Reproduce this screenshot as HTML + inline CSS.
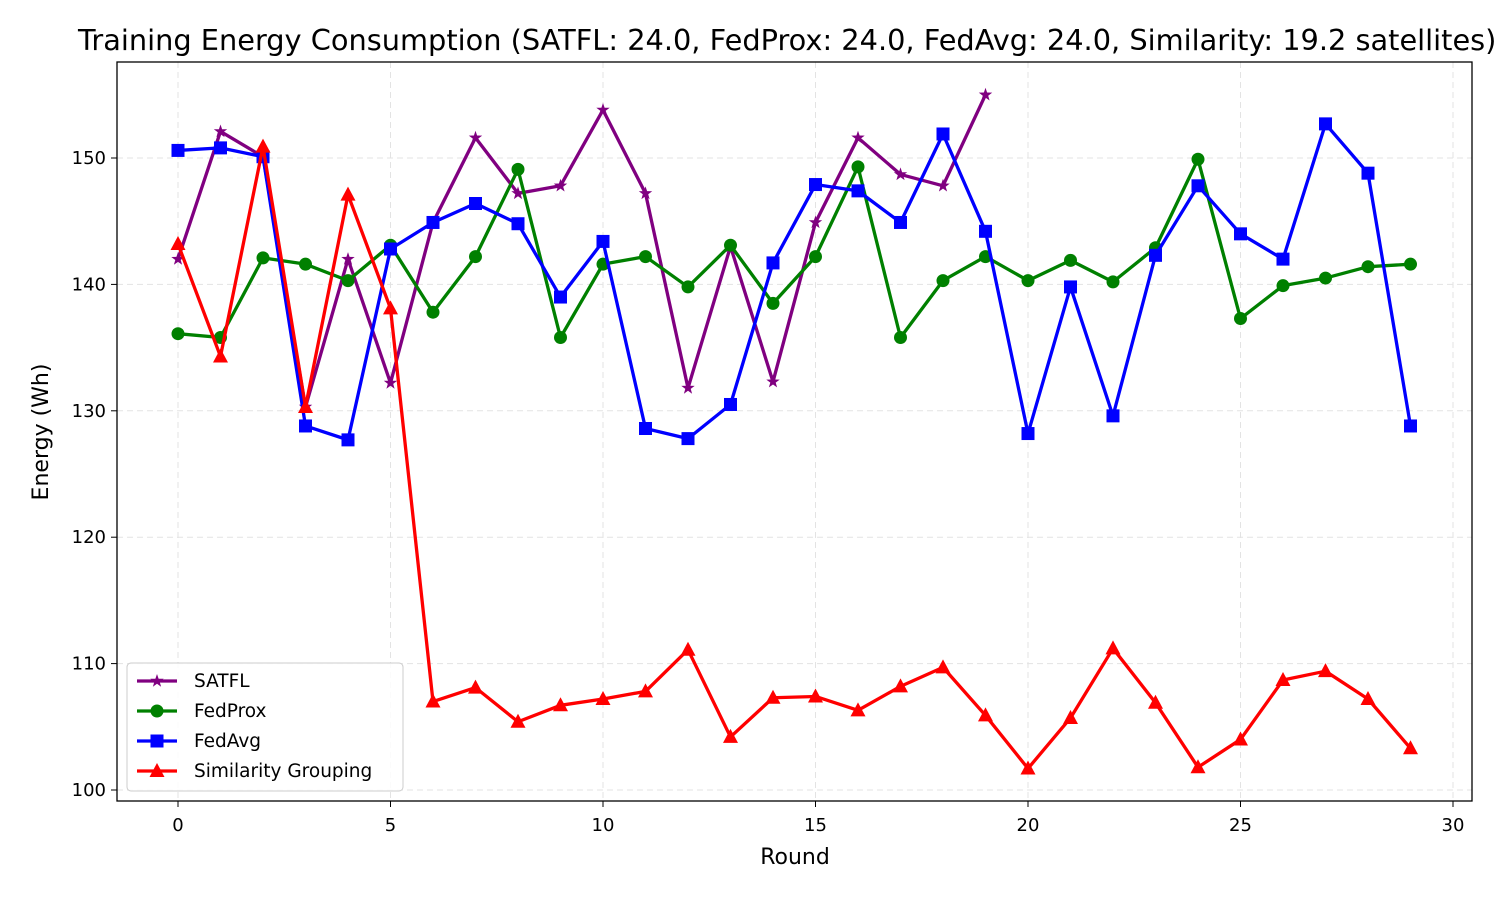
<!DOCTYPE html>
<html><head><meta charset="utf-8"><style>
html,body{margin:0;padding:0;background:#fff;width:1500px;height:900px;overflow:hidden}
svg{font-family:"DejaVu Sans","Liberation Sans",sans-serif}
</style></head><body>
<svg id="chart" width="1500" height="900">
<text x="78" y="50" font-size="28.8">Training Energy Consumption (SATFL: 24.0, FedProx: 24.0, FedAvg: 24.0, Similarity: 19.2 satellites)</text>
<g id="grid"></g><g id="axes"></g><g id="series"></g>
<rect x="117" y="62" width="1355" height="739" fill="none" stroke="#000" stroke-width="1.3"/>
<text x="795" y="864" font-size="22" text-anchor="middle">Round</text>
<text transform="translate(48,432) rotate(-90)" font-size="22" text-anchor="middle">Energy (Wh)</text>
<g id="legend"></g>
</svg>
<script>
const xTicks=[0,5,10,15,20,25,30];
const yTicks=[100,110,120,130,140,150];
const satfl=[142.0,152.1,150.1,130.3,142.0,132.2,144.9,151.6,147.2,147.8,153.8,147.2,131.8,143.0,132.3,144.9,151.6,148.7,147.8,155.0];
const fedprox=[136.1,135.8,142.1,141.6,140.3,143.1,137.8,142.2,149.1,135.8,141.6,142.2,139.8,143.1,138.5,142.2,149.3,135.8,140.3,142.2,140.3,141.9,140.2,142.9,149.9,137.3,139.9,140.5,141.4,141.6];
const fedavg=[150.6,150.8,150.1,128.8,127.7,142.8,144.9,146.4,144.8,139.0,143.4,128.6,127.8,130.5,141.7,147.9,147.4,144.9,151.9,144.2,128.2,139.8,129.6,142.3,147.8,144.0,142.0,152.7,148.8,128.8];
const similarity=[143.2,134.3,150.9,130.3,147.1,138.1,107.0,108.1,105.4,106.7,107.2,107.8,111.1,104.2,107.3,107.4,106.3,108.2,109.7,105.9,101.7,105.7,111.2,106.9,101.8,104.0,108.7,109.4,107.2,103.3];
const seriesNames=["SATFL","FedProx","FedAvg","Similarity Grouping"];
const NS="http://www.w3.org/2000/svg";
const X=v=>178+v*42.5, Y=v=>790-(v-100)*12.64;
function mk(tag,attrs,parent){const e=document.createElementNS(NS,tag);for(const k in attrs)e.setAttribute(k,attrs[k]);parent.appendChild(e);return e;}
const grid=document.getElementById('grid'),axes=document.getElementById('axes');
xTicks.forEach(t=>{
 const l=mk('line',{x1:X(t),x2:X(t),y1:62,y2:801,stroke:'#e3e3e3','stroke-dasharray':'6,4'},grid);
 
 mk('line',{x1:X(t),x2:X(t),y1:801,y2:807,stroke:'#000'},axes);
 const tx=mk('text',{x:X(t),y:831,'font-size':18,'text-anchor':'middle'},axes);tx.textContent=t;
 
});
yTicks.forEach(t=>{
 const l=mk('line',{x1:117,x2:1472,y1:Y(t),y2:Y(t),stroke:'#e3e3e3','stroke-dasharray':'6,4'},grid);
 
 mk('line',{x1:111,x2:117,y1:Y(t),y2:Y(t),stroke:'#000'},axes);
 const tx=mk('text',{x:106,y:Y(t)+6,'font-size':18,'text-anchor':'end'},axes);tx.textContent=t;
 
});
function marker(type,x,y,c,g){
 if(type==='star'){let p=[];for(let i=0;i<10;i++){const r=i%2?2.8:7,a=-Math.PI/2+i*Math.PI/5;p.push((x+r*Math.cos(a)).toFixed(1)+','+(y+r*Math.sin(a)).toFixed(1));}return mk('polygon',{points:p.join(' '),fill:c},g);}
 if(type==='circle')return mk('circle',{cx:x,cy:y,r:6.5,fill:c},g);
 if(type==='square')return mk('rect',{x:x-6.5,y:y-6.5,width:13,height:13,fill:c},g);
 return mk('polygon',{points:`${x},${y-8} ${x+7.5},${y+6} ${x-7.5},${y+6}`,fill:c},g);
}
const sg=document.getElementById('series');
const defs=[[satfl,'#800080','star','satfl'],[fedprox,'#008000','circle','fedprox'],[fedavg,'#0000ff','square','fedavg'],[similarity,'#ff0000','tri','similarity']];
defs.forEach(([d,c,m,n])=>{
 const g=mk('g',{},sg);
 
 const ln=mk('polyline',{points:d.map((v,i)=>X(i)+','+Y(v)).join(' '),fill:'none',stroke:c,'stroke-width':3.3,'stroke-linejoin':'round'},g);
 
 d.forEach((v,i)=>{const p=marker(m,X(i),Y(v),c,g);});
});
const lg=document.getElementById('legend');

mk('rect',{x:127,y:663,width:276,height:128,rx:4,fill:'#fff','fill-opacity':0.85,stroke:'#ccc'},lg);
defs.forEach(([d,c,m,n],i)=>{
 const y=681+i*30;
 const e=mk('g',{},lg);
 
 mk('line',{x1:137,x2:177,y1:y,y2:y,stroke:c,'stroke-width':3.3},e);
 marker(m,157,y,c,e);
 const t=mk('text',{x:194,y:y+6,'font-size':18.5},e);t.textContent=seriesNames[i];
});
</script>
</body></html>
